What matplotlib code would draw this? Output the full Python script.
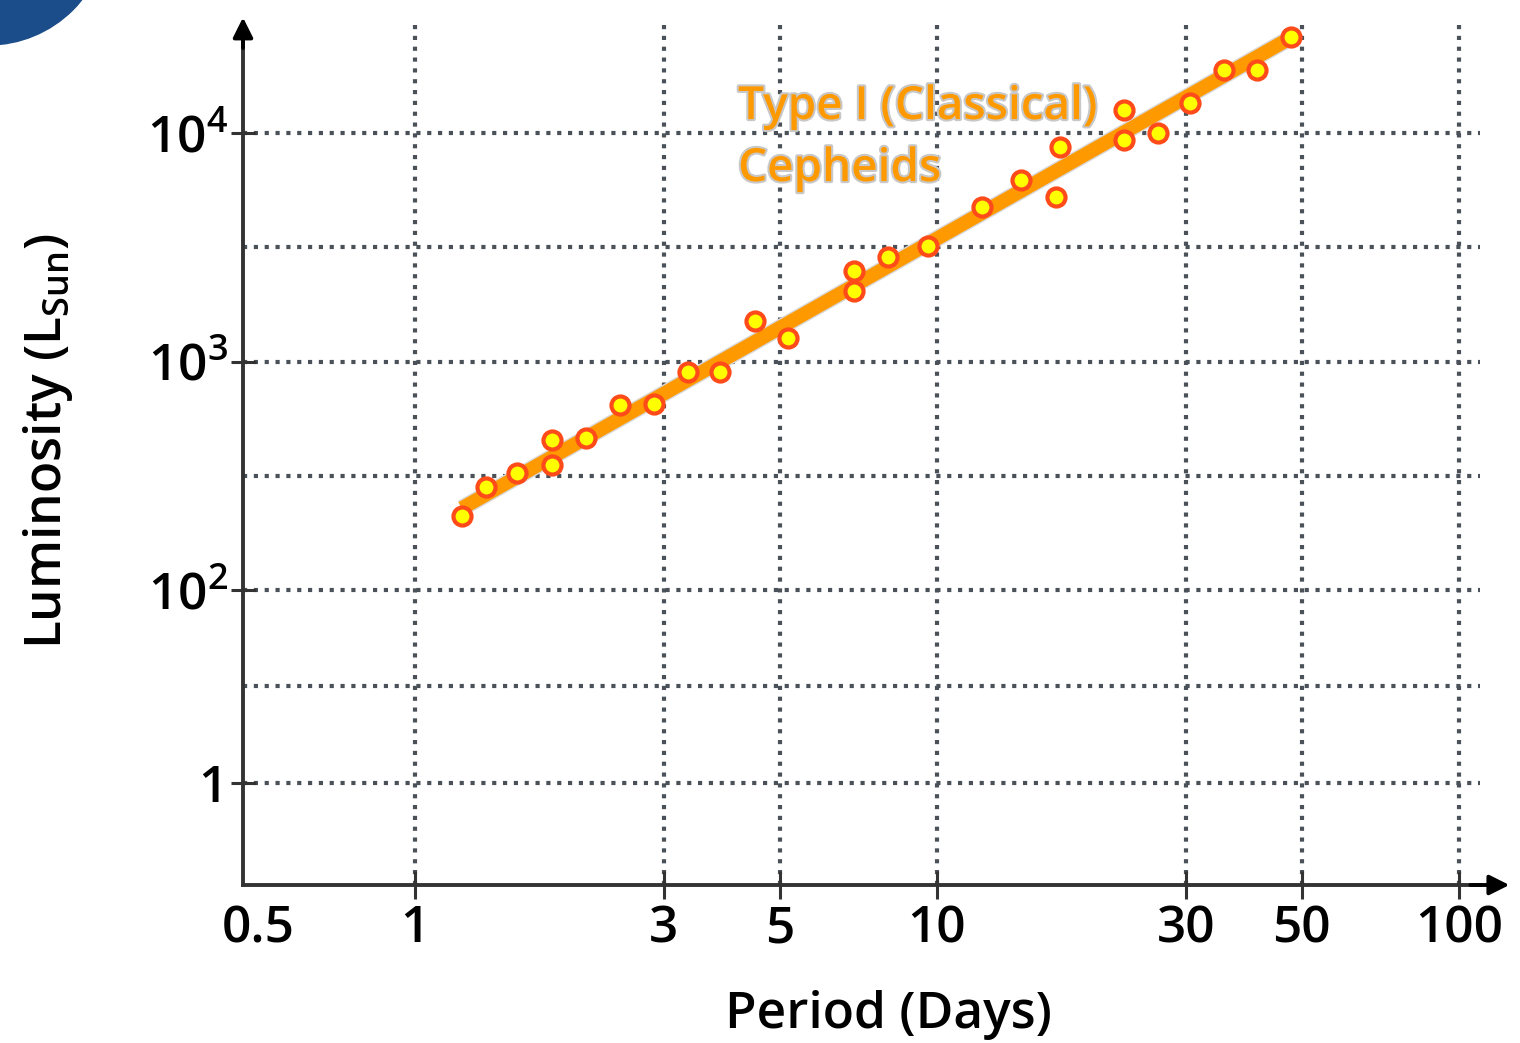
import numpy as np
import matplotlib
matplotlib.use("Agg")
import matplotlib.pyplot as plt
import matplotlib.patheffects as pe
from matplotlib.patches import Ellipse

# period (days) and luminosity (L_sun) of the plotted Cepheids
period = [1.23, 1.37, 1.57, 1.83, 1.83, 2.13, 2.47, 2.87, 3.33, 3.84,
          4.48, 5.18, 6.93, 6.93, 8.05, 9.61, 12.2, 14.5, 16.9, 17.2,
          22.8, 22.8, 26.5, 30.5, 35.5, 41.0, 47.6]
lum = [211, 282, 325, 453, 352, 462, 646, 652, 900, 900,
       1503, 1268, 2489, 2035, 2866, 3201, 4742, 6223, 5248, 8690,
       12600, 9310, 10000, 13500, 18900, 18900, 26300]

# fitted relation, end points
fit_period = [1.23, 48.7]
fit_lum = [228, 26900]

x_ticks = [0.5, 1, 3, 5, 10, 30, 50, 100]
x_labels = ['0.5', '1', '3', '5', '10', '30', '50', '100']
x_grid = [1, 3, 5, 10, 30, 50, 100]

y_ticks = [1e4, 1e3, 1e2, 10**1.155]
y_labels = ['$\\mathregular{10^4}$', '$\\mathregular{10^3}$', '$\\mathregular{10^2}$', '1']
y_grid = [1e4, 10**3.5, 1e3, 10**2.5, 1e2, 10**1.58, 10**1.155]

plt.rcParams['font.family'] = ['Open Sans', 'DejaVu Sans']
plt.rcParams['font.weight'] = 'semibold'
plt.rcParams['axes.labelweight'] = 'semibold'
plt.rcParams['mathtext.fontset'] = 'custom'
plt.rcParams['mathtext.rm'] = 'Open Sans:semibold'

fig = plt.figure(figsize=(15.2, 10.43), dpi=100)
ax = fig.add_axes([243/1520, 1 - 885/1043, 1237/1520, 860/1043])

axis_col = '#333333'
grid_col = '#4a5159'

# dotted grid
for gx in x_grid:
    ax.axvline(gx, color=grid_col, lw=3.0, ls=(0, (1.0, 1.6)), zorder=1)
for gy in y_grid:
    ax.axhline(gy, color=grid_col, lw=3.0, ls=(0, (1.0, 1.6)), zorder=1)

ax.plot(fit_period, fit_lum, color='#ff9900', lw=10, solid_capstyle='butt', zorder=2,
        path_effects=[pe.Stroke(linewidth=12, foreground='#d8d8d8'), pe.Normal()])
ax.plot(period, lum, 'o', ms=13, mfc='#ffff00', mec='#ff4a1a', mew=3, zorder=3)

ax.set_xscale('log')
ax.set_yscale('log')
ax.set_xlim(0.4685, 109.7)
ax.set_ylim(5.12, 10**4.473)

ax.xaxis.set_minor_locator(matplotlib.ticker.NullLocator())
ax.yaxis.set_minor_locator(matplotlib.ticker.NullLocator())
ax.set_xticks(x_ticks)
ax.set_xticklabels(x_labels)
ax.set_yticks(y_ticks)
ax.set_yticklabels(y_labels)
ax.tick_params(axis='x', direction='inout', length=20, width=2.2, color=axis_col,
               labelsize=37, pad=4)
ax.tick_params(axis='y', direction='inout', length=18, width=2.2, color=axis_col,
               labelsize=37, pad=2)
ax.xaxis.get_major_ticks()[0].tick1line.set_visible(False)

for s in ['top', 'right']:
    ax.spines[s].set_visible(False)
for s in ['left', 'bottom']:
    ax.spines[s].set_color(axis_col)
    ax.spines[s].set_linewidth(2.8)

# axis arrows
ax.annotate('', xy=(1.026, 0), xytext=(0.99, 0), xycoords='axes fraction',
            arrowprops=dict(arrowstyle='-|>', color='black', lw=2.8, mutation_scale=30),
            annotation_clip=False)
ax.annotate('', xy=(0, 1.012), xytext=(0, 0.97), xycoords='axes fraction',
            arrowprops=dict(arrowstyle='-|>', color='black', lw=2.8, mutation_scale=30),
            annotation_clip=False)

ax.set_xlabel('Period (Days)', fontsize=37, fontweight='semibold')
ax.xaxis.set_label_coords(0.522, -0.122)
ax.set_ylabel('Luminosity (L$_{\\mathregular{Sun}}$)', fontsize=37, fontweight='semibold')
ax.yaxis.set_label_coords(-0.136, 0.516)

ax.text(4.16, 10**4.21, 'Type I (Classical)\nCepheids', color='#ff9900', fontsize=33,
        fontweight='semibold', va='top', ha='left', linespacing=1.5, zorder=4,
        path_effects=[pe.withStroke(linewidth=3, foreground='#c8c8c8')])

# blue corner decoration
fig.patches.append(Ellipse((-12/1520, 1 + 75/1043), 240/1520, 240/1043,
                           transform=fig.transFigure, color='#1b4d8a', zorder=0))

fig.savefig('out.png', dpi=100)
